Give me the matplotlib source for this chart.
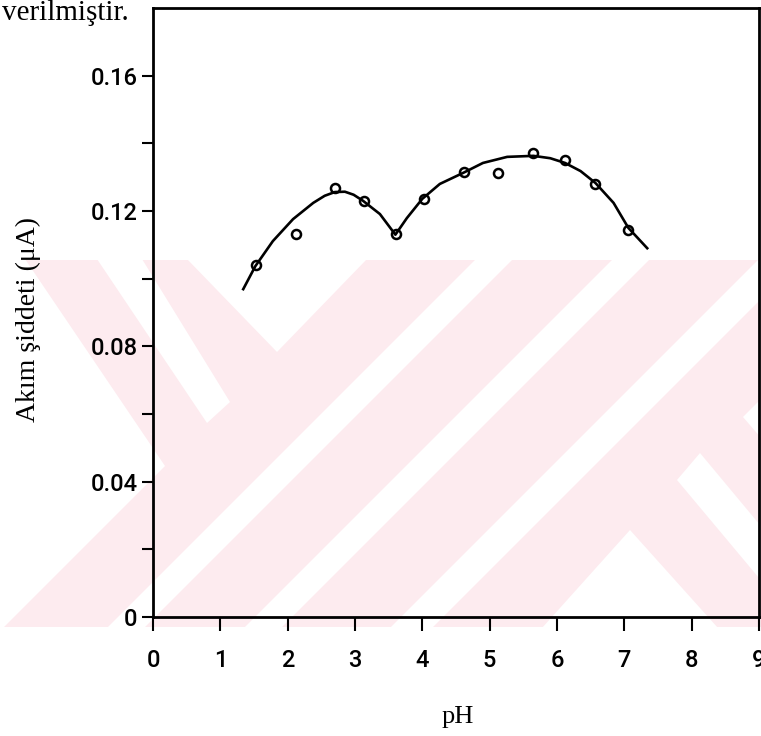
import matplotlib.pyplot as plt
from matplotlib.patches import Polygon, Rectangle

# measured points (pH, current in uA)
ph_pts = [1.53, 2.13, 2.70, 3.13, 3.61, 4.02, 4.62, 5.13, 5.65, 6.12, 6.57, 7.05]
akim_pts = [0.1039, 0.1131, 0.1267, 0.1230, 0.1131, 0.1236, 0.1316, 0.1313, 0.1370, 0.1350, 0.1281, 0.1143]

# hand-drawn fitted curve
ph_curve = [1.34, 1.52, 1.78, 2.08, 2.38, 2.55, 2.70, 2.85, 2.98, 3.12, 3.37, 3.60,
            3.77, 4.00, 4.26, 4.61, 4.90, 5.26, 5.65, 5.90, 6.12, 6.35, 6.57, 6.84, 7.06, 7.34]
akim_curve = [0.0969, 0.1037, 0.1111, 0.1176, 0.1224, 0.1245, 0.1256, 0.1257, 0.1248, 0.1230,
              0.1191, 0.1130, 0.1179, 0.1236, 0.1280, 0.1313, 0.1342, 0.1360, 0.1363,
              0.1356, 0.1342, 0.1318, 0.1283, 0.1224, 0.1150, 0.1090]

x_ticks = list(range(10))
y_ticks = [0, 0.04, 0.08, 0.12, 0.16]
y_ticklabels = ['0', '0.04', '0.08', '0.12', '0.16']
y_minor = [0.02, 0.06, 0.10, 0.14]

# background watermark shapes (figure pixels, y down)
wm_pink = '#fdebef'
wm_white = [
    [(0, 259), (25, 259), (165, 466), (0, 631)],
    [(97, 259), (142, 259), (230, 402), (207, 423)],
    [(187, 259), (367, 259), (277, 352)],
    [(476, 259), (513, 259), (144, 628), (107, 628)],
    [(613, 259), (650, 259), (281, 628), (244, 628)],
    [(759, 259), (801, 259), (432, 628), (390, 628)],
    [(542, 628), (630, 530), (718, 628)],
    [(700, 453), (800, 573), (800, 627), (677, 480)],
    [(743, 417), (762, 398), (800, 440), (780, 460)],
]

fig = plt.figure(figsize=(7.61, 7.36), dpi=100)

bg = fig.add_axes([0, 0, 1, 1], zorder=0)
bg.set_xlim(0, 761)
bg.set_ylim(736, 0)
bg.axis('off')
bg.add_patch(Rectangle((0, 260), 761, 367, color=wm_pink, lw=0))
for poly in wm_white:
    bg.add_patch(Polygon(poly, closed=True, color='white', lw=0))

ax = fig.add_axes([153/761, 1-617/736, (759-153)/761, (617-8)/736], zorder=1)
ax.set_facecolor('none')

ax.plot(ph_curve, akim_curve, color='black', lw=1.9)
ax.plot(ph_pts, akim_pts, 'o', ms=6.5, mfc='none', mec='black', mew=1.8)

ax.set_xlim(0, 9)
ax.set_ylim(0, 0.18)
ax.set_xticks(x_ticks)
ax.set_xticklabels([str(t) for t in x_ticks])
ax.set_yticks(y_ticks)
ax.set_yticklabels(y_ticklabels)
ax.set_yticks(y_minor, minor=True)

for s in ax.spines.values():
    s.set_linewidth(2)
    s.set_color('black')

ax.tick_params(axis='y', which='both', direction='out', length=8, width=1.5, pad=3)
ax.tick_params(axis='x', direction='out', length=10, width=1.5, pad=13)
for lab in ax.get_xticklabels() + ax.get_yticklabels():
    lab.set_family(['Roboto', 'DejaVu Sans'])
    lab.set_fontsize(17)
    lab.set_fontweight('medium')

fig.text(28/761, 1-320/736, 'Akım şiddeti (μA)', rotation=90, ha='center', va='center',
         fontsize=20, family=['Liberation Serif', 'DejaVu Serif'])
fig.text(458/761, 1-717/736, 'pH', ha='center', va='center',
         fontsize=19, family=['Liberation Serif', 'DejaVu Serif'])
fig.text(129/761, 1-20/736, 'verilmiştir.', ha='right', va='baseline',
         fontsize=21, family=['Liberation Serif', 'DejaVu Serif'])

fig.savefig('out.png', dpi=100)
